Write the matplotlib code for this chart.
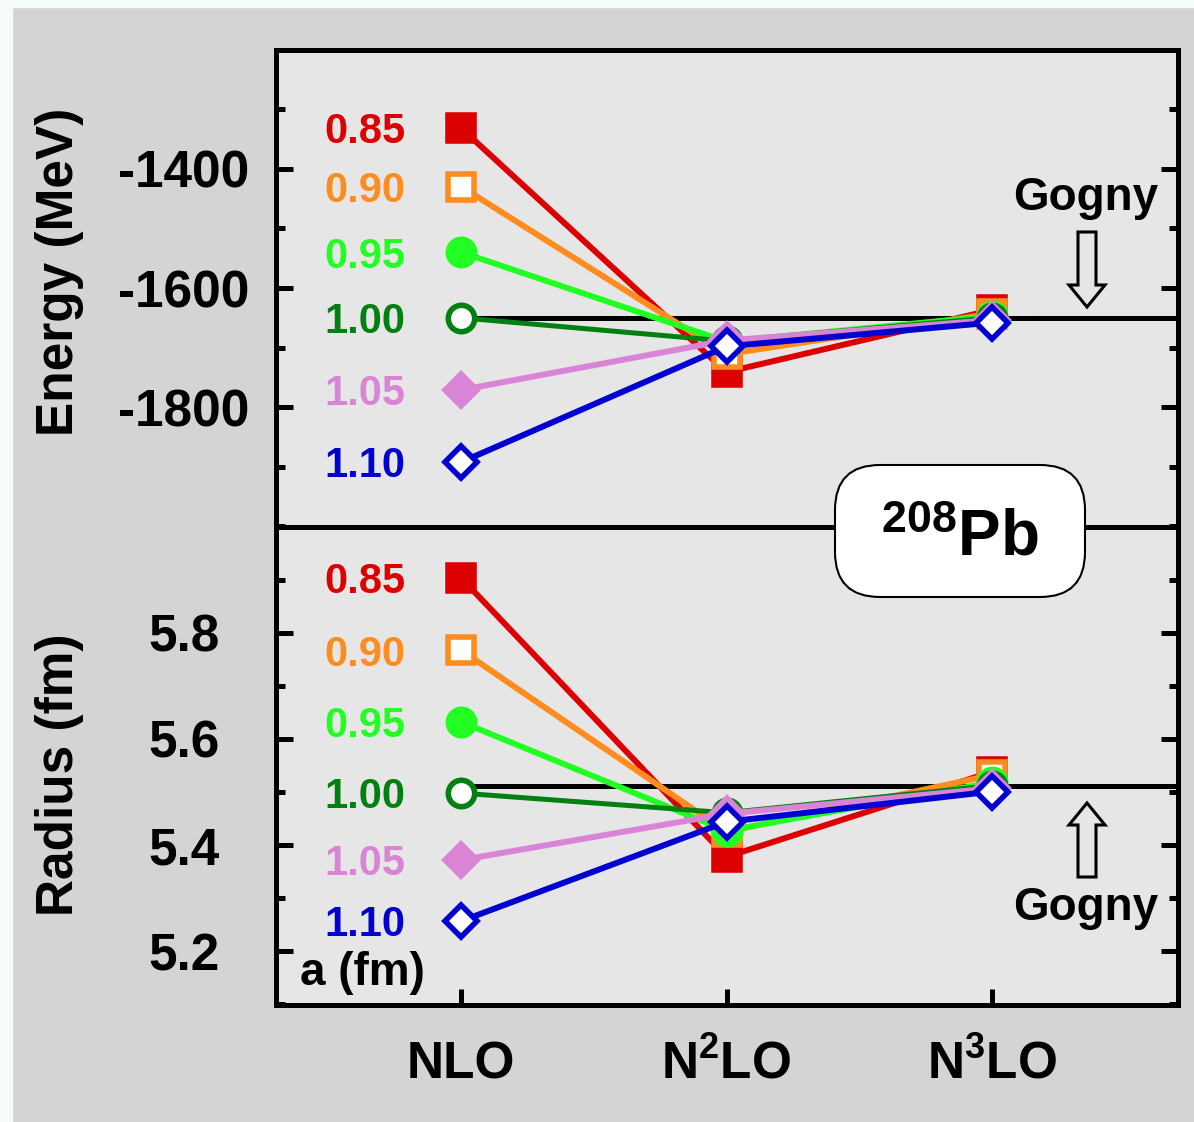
import matplotlib
matplotlib.use('Agg')
import matplotlib.pyplot as plt
from matplotlib.patches import FancyBboxPatch, Polygon, Rectangle
from matplotlib.transforms import IdentityTransform
from matplotlib.ticker import MultipleLocator

plt.rcParams['font.family'] = ['Liberation Sans', 'DejaVu Sans']
plt.rcParams['font.weight'] = 'bold'
plt.rcParams['mathtext.default'] = 'regular'
plt.rcParams['axes.unicode_minus'] = False

# ---------------- data ----------------
orders = ['NLO', 'N$^2$LO', 'N$^3$LO']
order_x = [1, 2, 3]
cutoffs = ['0.85', '0.90', '0.95', '1.00', '1.05', '1.10']

energy_nlo = [-1332, -1430, -1540, -1650, -1771, -1892]
energy_n2lo = [-1741, -1711, -1690, -1689, -1688, -1698]
energy_n3lo = [-1637, -1643, -1647, -1650, -1654, -1658]

radius_nlo = [5.903, 5.767, 5.632, 5.498, 5.372, 5.257]
radius_n2lo = [5.378, 5.425, 5.427, 5.461, 5.459, 5.444]
radius_n3lo = [5.538, 5.532, 5.518, 5.512, 5.507, 5.501]

gogny_energy = -1650
gogny_radius = 5.512

energy_ticks = [-1800, -1600, -1400]
radius_ticks = [5.2, 5.4, 5.6, 5.8]

# ---------------- style ----------------
colors = ['#dd0000', '#ff8c1e', '#22ff22', '#008010', '#da84d6', '#0000d0']
markers = ['s', 's', 'o', 'o', 'D', 'D']
filled = [True, False, True, False, True, False]
msizes = [19, 19, 19, 19, 16, 16]
lws = [4.3, 4.3, 4.3, 3.6, 4.3, 4.3]

W, H = 1194, 1122
fig = plt.figure(figsize=(W / 100, H / 100), dpi=100, facecolor='#d4d4d4')
fig.add_artist(Rectangle((0, 0), 12 / W, 1, transform=fig.transFigure,
                         color='#f5fafb', zorder=-1))
fig.add_artist(Rectangle((0, 1 - 7 / H), 1, 7 / H, transform=fig.transFigure,
                         color='#f5fafb', zorder=-1))

left = 275.5 / W
width = (1177.5 - 275.5) / W
ax1 = fig.add_axes([left, 1 - 526.5 / H, width, 477 / H])
ax2 = fig.add_axes([left, 1 - 1004.5 / H, width, 478 / H])

for ax in (ax1, ax2):
    ax.set_facecolor('#e6e6e6')
    ax.set_xlim(0.3, 3.7)
    for s in ax.spines.values():
        s.set_linewidth(3.6)
    ax.tick_params(axis='y', which='major', direction='in', length=12, width=3.6,
                   right=True, labelsize=37, pad=66)
    ax.tick_params(axis='y', which='minor', direction='in', length=6.5, width=3.6,
                   right=True)

ax1.set_ylim(-2000, -1200)
ax1.set_yticks(energy_ticks)
ax1.yaxis.set_minor_locator(MultipleLocator(100))
ax1.tick_params(axis='x', bottom=False, labelbottom=False)

ax2.set_ylim(5.1, 6.0)
ax2.set_yticks(radius_ticks)
ax2.set_yticklabels([f'{v:.1f}' for v in radius_ticks])
ax2.yaxis.set_minor_locator(MultipleLocator(0.1))
ax2.set_xticks(order_x)
ax2.set_xticklabels(orders)
ax2.tick_params(axis='x', direction='in', length=11.5, width=3.6, labelsize=37, pad=53)
for t in ax2.get_xticklabels():
    t.set_verticalalignment('baseline')
for ax in (ax1, ax2):
    for t in ax.get_yticklabels():
        t.set_horizontalalignment('center')

ax1.hlines(gogny_energy, order_x[0], 3.7, color='black', lw=3.6, zorder=1)
ax2.hlines(gogny_radius, order_x[0], 3.7, color='black', lw=3.6, zorder=1)

for i in range(len(cutoffs)):
    e = [energy_nlo[i], energy_n2lo[i], energy_n3lo[i]]
    r = [radius_nlo[i], radius_n2lo[i], radius_n3lo[i]]
    for ax, vals in ((ax1, e), (ax2, r)):
        ax.plot(order_x, vals, color=colors[i], lw=lws[i], marker=markers[i],
                ms=msizes[i], mew=4, mec=colors[i],
                mfc=colors[i] if filled[i] else 'white', zorder=2 + i)
        ax.annotate(cutoffs[i], xy=(0.79, vals[0]), xytext=(0, -11),
                    textcoords='offset points', ha='right', va='baseline',
                    fontsize=30, color=colors[i], zorder=10)

ax2.annotate('a (fm)', xy=(0.392, 5.137), ha='left', va='baseline', fontsize=33)

# axis labels
fig.text(60 / W, 1 - 272 / H, 'Energy (MeV)', rotation=90, ha='center',
         va='center', fontsize=37)
fig.text(60 / W, 1 - 775 / H, 'Radius (fm)', rotation=90, ha='center',
         va='center', fontsize=37)

# Gogny labels and hollow arrows (pixel space)
fig.text(1086 / W, 1 - 210 / H, 'Gogny', ha='center', va='baseline', fontsize=33)
fig.text(1086 / W, 1 - 920 / H, 'Gogny', ha='center', va='baseline', fontsize=33)


def hollow_arrow(cx, tail, base, tip):
    pts = [(cx - 9, tail), (cx + 9, tail), (cx + 9, base), (cx + 18, base),
           (cx, tip), (cx - 18, base), (cx - 9, base)]
    pts = [(x, H - y) for x, y in pts]
    fig.add_artist(Polygon(pts, closed=True, transform=IdentityTransform(),
                           facecolor='#e6e6e6', edgecolor='black', lw=2.2,
                           zorder=20))


hollow_arrow(1087, 232, 285, 307)
hollow_arrow(1087, 877, 825, 803)

# 208Pb box
box = FancyBboxPatch((835, H - 597), 250, 132,
                     boxstyle='round,pad=0,rounding_size=45',
                     transform=IdentityTransform(), facecolor='white',
                     edgecolor='black', lw=1.5, zorder=20)
fig.add_artist(box)
fig.text(959.5 / W, 1 - 555 / H, '$^{208}$Pb', ha='center', va='baseline',
         fontsize=46, zorder=21)

fig.savefig('out.png', dpi=100, facecolor=fig.get_facecolor())
